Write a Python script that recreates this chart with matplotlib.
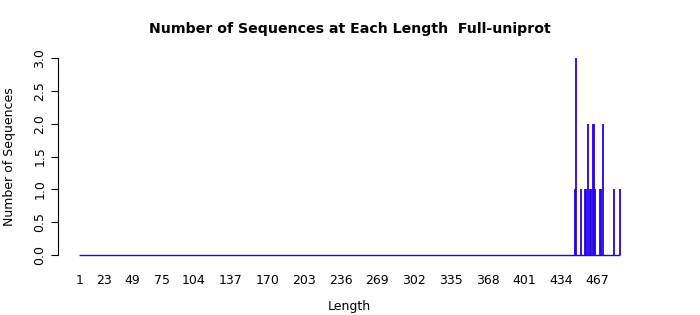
import matplotlib
matplotlib.use("Agg")
import matplotlib.pyplot as plt
import numpy as np

lengths = [447, 448, 452, 456, 457, 458, 460, 461, 463, 464, 465, 469, 470, 472, 482, 487]
counts = [1, 3, 1, 1, 1, 2, 1, 1, 2, 2, 1, 1, 1, 2, 1, 1]
xtick_labels = [1, 23, 49, 75, 104, 137, 170, 203, 236, 269, 302, 335, 368, 401, 434, 467]
yticks = [0.0, 0.5, 1.0, 1.5, 2.0, 2.5, 3.0]

xmin, xmax = 1, 487
ymax = 3.0

fig = plt.figure(figsize=(7, 3.15), dpi=100)
ax = fig.add_axes([0.0824, 0.165, 0.834, 0.676])

color = "#2200ee"
ax.plot([xmin, xmax], [0, 0], color=color, lw=1.0, solid_capstyle="butt")
ax.vlines(lengths, 0, counts, color=color, lw=1.3)

xr = xmax - xmin
ax.set_xlim(xmin - 0.04 * xr, xmax + 0.04 * xr)
ax.set_ylim(-0.04 * ymax, ymax * 1.04)

for s in ["top", "right", "bottom"]:
    ax.spines[s].set_visible(False)
ax.spines["left"].set_bounds(0, ymax)
ax.spines["left"].set_linewidth(0.8)

ax.set_yticks(yticks)
ax.set_yticklabels([f"{v:.1f}" for v in yticks], rotation=90, va="center", fontsize=9)
ax.tick_params(axis="y", length=5, width=0.8, pad=3)

ax.set_xticks(xtick_labels)
ax.set_xticklabels([str(v) for v in xtick_labels], fontsize=9)
ax.tick_params(axis="x", length=0, pad=8)

ax.set_xlabel("Length", fontsize=9, labelpad=9)
ax.set_ylabel("Number of Sequences", fontsize=9, labelpad=12.5)

fig.text(0.5, 0.908, "Number of Sequences at Each Length  Full-uniprot",
         ha="center", va="center", fontsize=10.2, fontweight="bold")

fig.savefig("out.png", dpi=100)
